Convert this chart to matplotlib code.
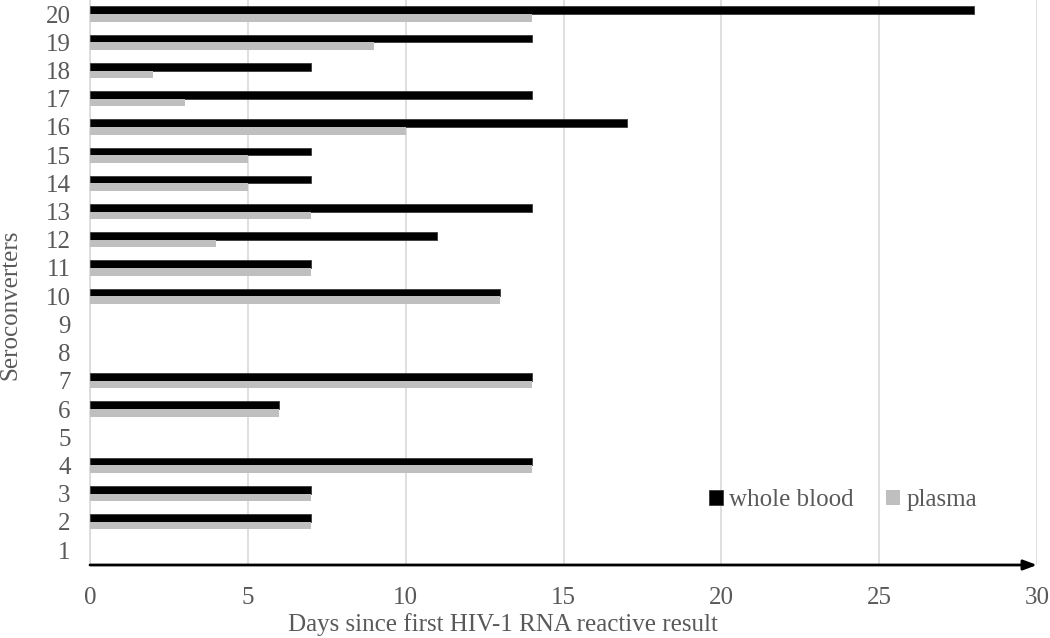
import matplotlib
matplotlib.use("Agg")
import matplotlib.pyplot as plt
import numpy as np

plt.rcParams['font.family'] = ['Liberation Serif', 'DejaVu Serif']

categories = list(range(1, 21))
whole_blood = [0, 7, 7, 14, 0, 6, 14, 0, 0, 13, 7, 11, 14, 7, 7, 17, 14, 7, 14, 28]
plasma = [0, 7, 7, 14, 0, 6, 14, 0, 0, 13, 7, 4, 7, 5, 5, 10, 3, 2, 9, 14]
x_ticks = [0, 5, 10, 15, 20, 25, 30]

fig = plt.figure(figsize=(10.5, 6.38), dpi=100)
ax = fig.add_axes([90/1050, 73/638, (1037-90)/1050, 565/638])

y = np.array(categories, dtype=float)
wb = np.array(whole_blood, dtype=float)
pl = np.array(plasma, dtype=float)
h = 0.27
m1 = wb > 0
m2 = pl > 0
ax.barh(y[m1] + h/2, wb[m1], height=h, color='#000000', edgecolor='#3a3a3a', linewidth=0.6, label='whole blood', zorder=3)
ax.barh(y[m2] - h/2, pl[m2], height=h, color='#bfbfbf', linewidth=0, label='plasma', zorder=3)

ax.set_xlim(0, 30)
ax.set_ylim(0.47, 20.5)
ax.set_xticks(x_ticks)
ax.set_yticks(categories)
ax.set_yticklabels([str(c) for c in categories])
ax.tick_params(axis='both', length=0, labelsize=18, labelcolor='#595959')
ax.tick_params(axis='x', pad=16)
ax.tick_params(axis='y', pad=14)

ax.grid(axis='x', color='#d9d9d9', linewidth=1.2, zorder=0)
for s in ['top', 'right', 'bottom']:
    ax.spines[s].set_visible(False)
ax.spines['left'].set_color('#d9d9d9')
ax.spines['left'].set_linewidth(1.2)

ax.annotate('', xy=(1.0, 0.0), xytext=(0.0, 0.0), xycoords='axes fraction',
            arrowprops=dict(arrowstyle='-|>,head_length=0.8,head_width=0.3', color='black', lw=2, shrinkA=0, shrinkB=0),
            zorder=5, annotation_clip=False)

ax.set_xlabel('Days since first HIV-1 RNA reactive result', fontsize=18, color='#595959', labelpad=4)
ax.xaxis.set_label_coords(0.436, -0.085)
ax.set_ylabel('Seroconverters', fontsize=18, color='#595959')
ax.yaxis.set_label_coords(-0.072, 0.46)

leg = ax.legend(loc='center', bbox_to_anchor=(0.795, 0.115), ncol=2, frameon=False, fontsize=18,
                labelcolor='#595959', handlelength=0.55, handleheight=0.55, handletextpad=0.25, columnspacing=1.3)

fig.savefig('out.png', dpi=100)
